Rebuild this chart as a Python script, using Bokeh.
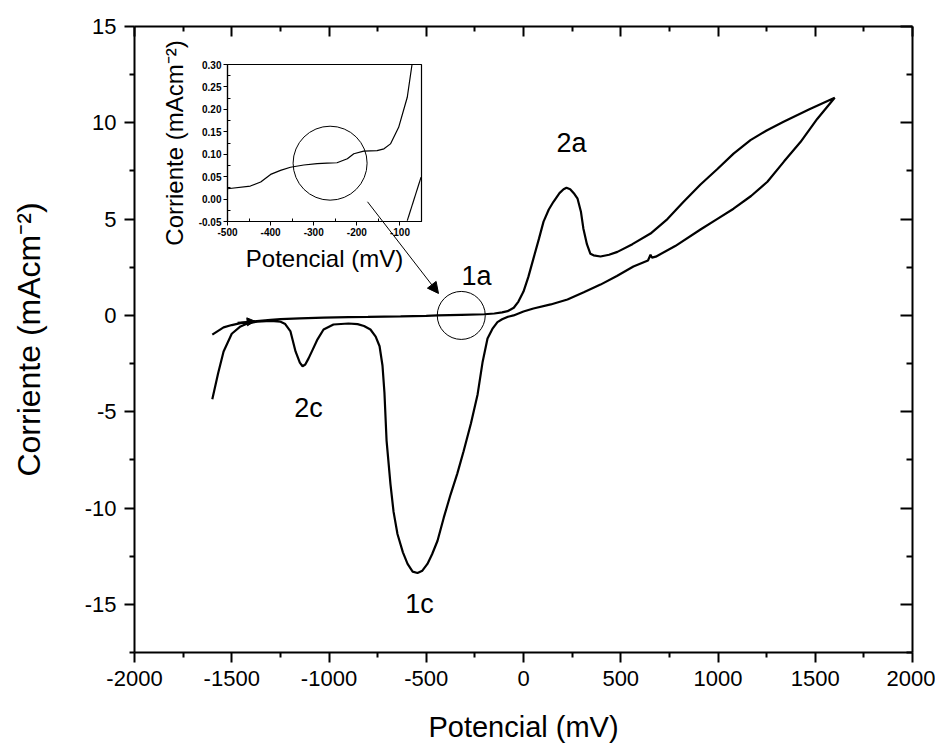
from bokeh.plotting import figure
from bokeh.models import (Range1d, LinearAxis, FixedTicker, Arrow, NormalHead,
                          PrintfTickFormatter, ColumnDataSource, CustomLabelingPolicy)
from bokeh.embed import file_html
from bokeh.resources import INLINE
from bokeh.core.properties import value

FONT = "Liberation Sans"

# ---------------- data ----------------
forward_mv = [-1600, -1570, -1542, -1500, -1455, -1393, -1300, -1249, -1150, -1028, -900, -800,
              -632, -500, -442, -319, -200, -150, -110, -82, -50, -26, 0, 25, 51, 80, 103, 130,
              154, 185, 206, 221, 240, 262, 278, 295, 308, 326, 344, 360, 396, 440, 483, 560,
              653, 740, 823, 910, 997, 1080, 1167, 1250, 1337, 1470, 1600]
forward_ma = [-1.0, -0.8, -0.62, -0.5, -0.4, -0.31, -0.23, -0.19, -0.15, -0.11, -0.09, -0.08,
              -0.05, -0.02, 0.0, 0.03, 0.06, 0.1, 0.16, 0.22, 0.4, 0.72, 1.24, 2.0, 2.95, 4.0,
              4.87, 5.5, 5.9, 6.35, 6.55, 6.63, 6.55, 6.3, 6.06, 5.4, 4.5, 3.7, 3.2, 3.12, 3.06,
              3.15, 3.3, 3.7, 4.25, 5.0, 5.9, 6.8, 7.6, 8.4, 9.1, 9.6, 10.05, 10.7, 11.3]

reverse_mv = [1600, 1510, 1424, 1340, 1254, 1170, 1080, 995, 910, 780, 680, 660, 653, 640, 565,
              480, 396, 310, 226, 140, 51, 0, -51, -80, -110, -134, -160, -185, -210, -236,
              -270, -308, -340, -375, -410, -442, -470, -494, -520, -545, -570, -596, -620,
              -648, -668, -684, -704, -715, -725, -740, -760, -787, -820, -853, -900, -977,
              -1028, -1059, -1085, -1105, -1122, -1136, -1150, -1172, -1198, -1225, -1249,
              -1300, -1368, -1420, -1455, -1500, -1542, -1570, -1600]
reverse_ma = [11.3, 10.2, 9.0, 8.0, 6.94, 6.2, 5.54, 5.0, 4.46, 3.6, 3.05, 3.0, 3.15, 2.85, 2.54,
              2.05, 1.6, 1.2, 0.83, 0.57, 0.36, 0.2, 0.0, -0.07, -0.2, -0.35, -0.7, -1.2, -2.4,
              -4.1, -5.6, -7.05, -8.2, -9.3, -10.5, -11.7, -12.4, -12.9, -13.25, -13.37, -13.3,
              -12.9, -12.3, -11.35, -10.2, -8.76, -6.5, -4.0, -2.6, -1.6, -1.1, -0.73, -0.55,
              -0.45, -0.42, -0.47, -0.73, -1.24, -1.8, -2.23, -2.55, -2.64, -2.45, -1.87, -0.83,
              -0.45, -0.33, -0.28, -0.32, -0.42, -0.57, -0.95, -1.87, -3.0, -4.35]

inset_fwd_mv = [-500, -447, -423, -400, -377, -354, -323, -292, -269, -246, -222, -207, -184,
                -153, -137, -122, -103, -83, -72]
inset_fwd_ma = [0.023, 0.029, 0.038, 0.055, 0.064, 0.071, 0.076, 0.079, 0.080, 0.081, 0.090,
                0.101, 0.107, 0.108, 0.112, 0.123, 0.16, 0.227, 0.30]
inset_rev_mv = [-83, -51]
inset_rev_ma = [-0.048, 0.049]

x_ticks = [-2000, -1500, -1000, -500, 0, 500, 1000, 1500, 2000]
x_minor = [-1750, -1250, -750, -250, 250, 750, 1250, 1750]
y_ticks = [-15, -10, -5, 0, 5, 10, 15]
y_minor = [-17.5, -12.5, -7.5, -2.5, 2.5, 7.5, 12.5]
inset_x_ticks = [-500, -400, -300, -200, -100]
inset_x_minor = [-450, -350, -250, -150, -50]
inset_y_ticks = [-0.05, 0.0, 0.05, 0.10, 0.15, 0.20, 0.25, 0.30]
inset_y_minor = [-0.025, 0.025, 0.075, 0.125, 0.175, 0.225, 0.275]

peak_labels = ["2a", "1a", "2c", "1c"]
peak_label_mv = [247, -242, -1105, -535]
peak_label_ma = [8.96, 2.07, -4.82, -14.97]

circle_main_mv = [-320]
circle_main_ma = [0.0]
circle_inset_mv = [-262]
circle_inset_ma = [0.08]

arrow_start = (-802, 5.9)
arrow_end = (-437, 1.14)
dir_arrow_start = (-1470, -0.37)
dir_arrow_end = (-1380, -0.3)

HIDE_ALL = CustomLabelingPolicy(code="for (const i of indices) indices.unset(i); return indices")

# ---------------- main figure ----------------
p = figure(width=935, height=746, x_range=Range1d(-2000, 2000), y_range=Range1d(-17.5, 15),
           x_axis_type=None, y_axis_type=None, output_backend="svg", toolbar_location=None,
           min_border_left=134, min_border_right=23, min_border_top=26, min_border_bottom=94)
p.outline_line_color = None
p.background_fill_color = "white"
p.border_fill_color = "white"


def style_axis(ax, ticks, minor, tick_in, tick_out, minor_in, minor_out, show_labels):
    ax.ticker = FixedTicker(ticks=ticks, minor_ticks=minor)
    ax.formatter = PrintfTickFormatter(format="%d")
    ax.axis_line_width = 2
    ax.axis_line_color = "black"
    ax.major_tick_line_width = 2
    ax.minor_tick_line_width = 2
    ax.major_tick_in = tick_in
    ax.major_tick_out = tick_out
    ax.minor_tick_in = minor_in
    ax.minor_tick_out = minor_out
    ax.major_label_text_font = FONT
    ax.axis_label_text_font = FONT
    ax.axis_label_text_font_style = "normal"
    ax.major_label_text_color = "black"
    ax.axis_label_text_color = "black"
    if show_labels:
        ax.major_label_text_font_size = "22px"
        ax.major_label_standoff = 8
    else:
        ax.major_label_text_font_size = "0px"
        ax.major_label_standoff = 0
        ax.major_label_policy = HIDE_ALL


xb = LinearAxis(axis_label="Potencial (mV)")
style_axis(xb, x_ticks, x_minor, 0, 10, 0, 5, True)
xb.axis_label_text_font_size = "29px"
xb.axis_label_standoff = 22
p.add_layout(xb, "below")

yl = LinearAxis(axis_label="Corriente (mAcm\u207b\u00b2)")
style_axis(yl, y_ticks, y_minor, 0, 10, 0, 5, True)
yl.axis_label_text_font_size = "32px"
yl.axis_label_standoff = 35
p.add_layout(yl, "left")

xt = LinearAxis()
style_axis(xt, x_ticks, x_minor, 10, 0, 5, 0, False)
p.add_layout(xt, "above")

yr = LinearAxis()
style_axis(yr, y_ticks, y_minor, 12, 0, 6, 0, False)
p.add_layout(yr, "right")

cv_source = ColumnDataSource(data=dict(x=forward_mv + reverse_mv, y=forward_ma + reverse_ma))
p.line(x="x", y="y", source=cv_source, line_color="black", line_width=2.2)

p.scatter(x=circle_main_mv, y=circle_main_ma, marker="circle", size=48,
          fill_color=None, line_color="black", line_width=1)

p.text(x=peak_label_mv, y=peak_label_ma, text=peak_labels, text_font=value(FONT),
       text_font_size="27px", text_align="center", text_baseline="middle", text_color="black")

p.add_layout(Arrow(end=NormalHead(size=11, fill_color="black", line_color="black"),
                   x_start=arrow_start[0], y_start=arrow_start[1],
                   x_end=arrow_end[0], y_end=arrow_end[1],
                   line_color="black", line_width=1))
p.add_layout(Arrow(end=NormalHead(size=8, fill_color="black", line_color="black"),
                   x_start=dir_arrow_start[0], y_start=dir_arrow_start[1],
                   x_end=dir_arrow_end[0], y_end=dir_arrow_end[1],
                   line_color="black", line_width=1.5))

# ---------------- inset figure ----------------
inset = figure(width=280, height=250, x_range=Range1d(-500, -50), y_range=Range1d(-0.05, 0.30),
               x_axis_type=None, y_axis_type=None, output_backend="svg", toolbar_location=None,
               min_border_left=77, min_border_right=9, min_border_top=34, min_border_bottom=59,
               styles={"position": "absolute", "left": "150px", "top": "30px"})
inset.background_fill_color = None
inset.border_fill_color = None
inset.outline_line_color = "black"
inset.outline_line_width = 1.2


def style_inset_axis(ax, ticks, minor, fmt):
    ax.ticker = FixedTicker(ticks=ticks, minor_ticks=minor)
    ax.formatter = fmt
    ax.axis_line_width = 1.2
    ax.major_tick_line_width = 1
    ax.minor_tick_line_width = 1
    ax.major_tick_in = 0
    ax.major_tick_out = 4
    ax.minor_tick_in = 3
    ax.minor_tick_out = 0
    ax.major_label_text_font = FONT
    ax.major_label_text_font_size = "10px"
    ax.major_label_text_font_style = "bold"
    ax.major_label_standoff = 2
    ax.major_label_text_color = "black"
    ax.axis_label_text_font = FONT
    ax.axis_label_text_font_size = "24px"
    ax.axis_label_text_font_style = "normal"
    ax.axis_label_text_color = "black"


ix = LinearAxis(axis_label="Potencial (mV)")
style_inset_axis(ix, inset_x_ticks, inset_x_minor, PrintfTickFormatter(format="%d"))
ix.axis_label_standoff = 6
inset.add_layout(ix, "below")

iy = LinearAxis(axis_label="Corriente (mAcm\u207b\u00b2)")
style_inset_axis(iy, inset_y_ticks, inset_y_minor, PrintfTickFormatter(format="%.2f"))
iy.axis_label_standoff = 8
inset.add_layout(iy, "left")

inset.line(x=inset_fwd_mv, y=inset_fwd_ma, line_color="black", line_width=1.2)
inset.line(x=inset_rev_mv, y=inset_rev_ma, line_color="black", line_width=1.2)
inset.scatter(x=circle_inset_mv, y=circle_inset_ma, marker="circle", size=74,
              fill_color=None, line_color="black", line_width=1)

open("out.html", "w").write(file_html([p, inset], INLINE))
